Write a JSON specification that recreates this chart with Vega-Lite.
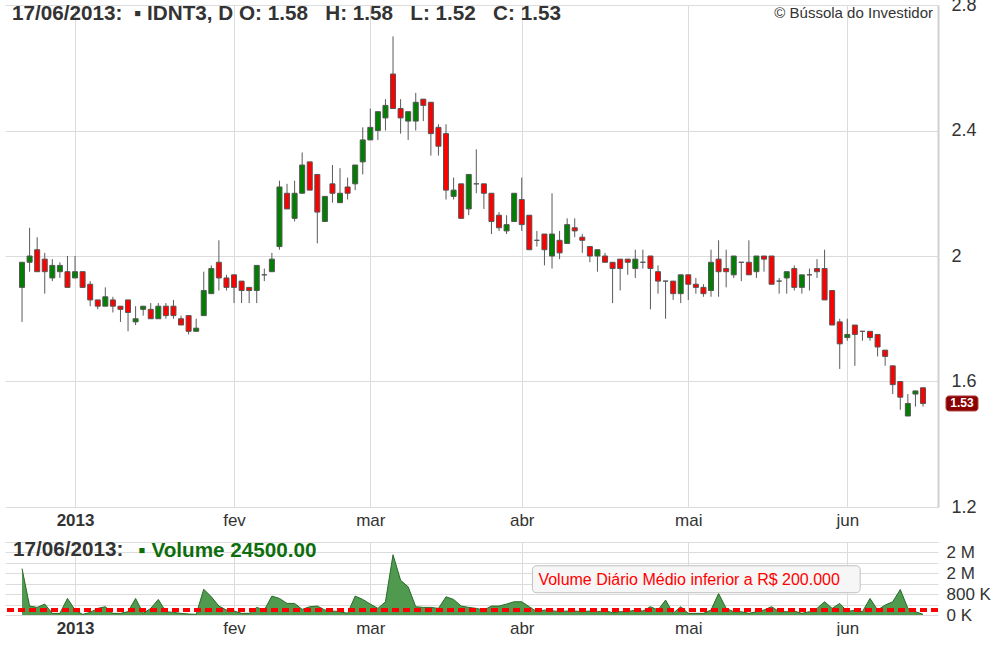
{
  "$schema": "https://vega.github.io/schema/vega-lite/v6.json",
  "background": "white",
  "padding": {"left": 3, "top": -4, "right": 0, "bottom": 0},
  "bounds": "flush",
  "spacing": 35,
  "config": {"font": "Liberation Sans", "view": {"stroke": null}},
  "title": {"text": "© Bússola do Investidor", "anchor": "end", "frame": "group", "fontSize": 15, "fontWeight": "normal", "color": "#333333", "offset": -25, "baseline": "top", "dx": -5},
  "datasets": {
    "d": [
      {"i":0,"o":1.90,"h":1.98,"l":1.79,"c":1.98,"v":1780000},
      {"i":1,"o":1.98,"h":2.09,"l":1.95,"c":2.00,"v":343000},
      {"i":2,"o":2.02,"h":2.06,"l":1.95,"c":1.95,"v":292000},
      {"i":3,"o":1.99,"h":2.01,"l":1.88,"c":1.95,"v":419000},
      {"i":4,"o":1.93,"h":1.99,"l":1.92,"c":1.97,"v":63000},
      {"i":5,"o":1.95,"h":1.98,"l":1.93,"c":1.97,"v":63000},
      {"i":6,"o":1.95,"h":2.00,"l":1.90,"c":1.90,"v":635000},
      {"i":7,"o":1.93,"h":2.00,"l":1.93,"c":1.95,"v":190000},
      {"i":8,"o":1.95,"h":1.95,"l":1.90,"c":1.90,"v":25000},
      {"i":9,"o":1.91,"h":1.92,"l":1.84,"c":1.86,"v":100000},
      {"i":10,"o":1.86,"h":1.86,"l":1.83,"c":1.84,"v":254000},
      {"i":11,"o":1.84,"h":1.90,"l":1.84,"c":1.87,"v":317000},
      {"i":12,"o":1.86,"h":1.87,"l":1.82,"c":1.84,"v":63000},
      {"i":13,"o":1.84,"h":1.84,"l":1.79,"c":1.83,"v":63000},
      {"i":14,"o":1.86,"h":1.86,"l":1.76,"c":1.82,"v":127000},
      {"i":15,"o":1.79,"h":1.84,"l":1.78,"c":1.80,"v":635000},
      {"i":16,"o":1.83,"h":1.84,"l":1.81,"c":1.84,"v":63000},
      {"i":17,"o":1.83,"h":1.85,"l":1.80,"c":1.80,"v":254000},
      {"i":18,"o":1.80,"h":1.85,"l":1.80,"c":1.84,"v":597000},
      {"i":19,"o":1.84,"h":1.85,"l":1.80,"c":1.81,"v":127000},
      {"i":20,"o":1.84,"h":1.86,"l":1.80,"c":1.81,"v":100000},
      {"i":21,"o":1.80,"h":1.81,"l":1.78,"c":1.78,"v":63000},
      {"i":22,"o":1.81,"h":1.81,"l":1.75,"c":1.76,"v":38000},
      {"i":23,"o":1.76,"h":1.80,"l":1.76,"c":1.77,"v":25000},
      {"i":24,"o":1.81,"h":1.95,"l":1.81,"c":1.89,"v":990000},
      {"i":25,"o":1.88,"h":1.97,"l":1.88,"c":1.96,"v":698000},
      {"i":26,"o":1.98,"h":2.05,"l":1.89,"c":1.93,"v":343000},
      {"i":27,"o":1.93,"h":1.94,"l":1.89,"c":1.90,"v":190000},
      {"i":28,"o":1.94,"h":1.94,"l":1.85,"c":1.90,"v":152000},
      {"i":29,"o":1.92,"h":1.92,"l":1.85,"c":1.89,"v":63000},
      {"i":30,"o":1.90,"h":1.90,"l":1.85,"c":1.89,"v":63000},
      {"i":31,"o":1.89,"h":1.97,"l":1.85,"c":1.97,"v":292000},
      {"i":32,"o":1.94,"h":1.96,"l":1.92,"c":1.94,"v":190000},
      {"i":33,"o":1.95,"h":2.01,"l":1.95,"c":1.99,"v":724000},
      {"i":34,"o":2.03,"h":2.24,"l":2.02,"c":2.22,"v":635000},
      {"i":35,"o":2.20,"h":2.23,"l":2.15,"c":2.15,"v":444000},
      {"i":36,"o":2.12,"h":2.24,"l":2.11,"c":2.20,"v":444000},
      {"i":37,"o":2.20,"h":2.33,"l":2.20,"c":2.29,"v":216000},
      {"i":38,"o":2.30,"h":2.30,"l":2.21,"c":2.21,"v":317000},
      {"i":39,"o":2.26,"h":2.26,"l":2.04,"c":2.14,"v":343000},
      {"i":40,"o":2.11,"h":2.19,"l":2.11,"c":2.19,"v":190000},
      {"i":41,"o":2.23,"h":2.29,"l":2.17,"c":2.20,"v":152000},
      {"i":42,"o":2.17,"h":2.28,"l":2.17,"c":2.20,"v":127000},
      {"i":43,"o":2.22,"h":2.25,"l":2.18,"c":2.20,"v":63000},
      {"i":44,"o":2.23,"h":2.29,"l":2.21,"c":2.29,"v":724000},
      {"i":45,"o":2.30,"h":2.41,"l":2.26,"c":2.37,"v":597000},
      {"i":46,"o":2.37,"h":2.47,"l":2.37,"c":2.41,"v":419000},
      {"i":47,"o":2.40,"h":2.46,"l":2.37,"c":2.46,"v":254000},
      {"i":48,"o":2.44,"h":2.50,"l":2.40,"c":2.48,"v":508000},
      {"i":49,"o":2.58,"h":2.70,"l":2.47,"c":2.47,"v":2310000},
      {"i":50,"o":2.47,"h":2.50,"l":2.39,"c":2.44,"v":1330000},
      {"i":51,"o":2.43,"h":2.46,"l":2.37,"c":2.46,"v":1080000},
      {"i":52,"o":2.43,"h":2.52,"l":2.40,"c":2.49,"v":317000},
      {"i":53,"o":2.50,"h":2.50,"l":2.43,"c":2.48,"v":292000},
      {"i":54,"o":2.49,"h":2.49,"l":2.32,"c":2.39,"v":292000},
      {"i":55,"o":2.41,"h":2.42,"l":2.32,"c":2.35,"v":254000},
      {"i":56,"o":2.39,"h":2.42,"l":2.18,"c":2.21,"v":698000},
      {"i":57,"o":2.19,"h":2.25,"l":2.18,"c":2.21,"v":597000},
      {"i":58,"o":2.23,"h":2.23,"l":2.12,"c":2.12,"v":343000},
      {"i":59,"o":2.15,"h":2.26,"l":2.13,"c":2.26,"v":292000},
      {"i":60,"o":2.23,"h":2.34,"l":2.20,"c":2.23,"v":254000},
      {"i":61,"o":2.23,"h":2.23,"l":2.15,"c":2.20,"v":190000},
      {"i":62,"o":2.20,"h":2.20,"l":2.07,"c":2.11,"v":343000},
      {"i":63,"o":2.13,"h":2.14,"l":2.08,"c":2.09,"v":343000},
      {"i":64,"o":2.08,"h":2.13,"l":2.07,"c":2.10,"v":419000},
      {"i":65,"o":2.11,"h":2.20,"l":2.11,"c":2.20,"v":508000},
      {"i":66,"o":2.18,"h":2.25,"l":2.08,"c":2.10,"v":508000},
      {"i":67,"o":2.13,"h":2.13,"l":2.02,"c":2.02,"v":317000},
      {"i":68,"o":2.05,"h":2.08,"l":2.03,"c":2.05,"v":127000},
      {"i":69,"o":2.07,"h":2.07,"l":1.97,"c":2.02,"v":190000},
      {"i":70,"o":2.00,"h":2.20,"l":1.96,"c":2.07,"v":165000},
      {"i":71,"o":2.05,"h":2.08,"l":1.99,"c":2.01,"v":127000},
      {"i":72,"o":2.04,"h":2.12,"l":2.04,"c":2.10,"v":152000},
      {"i":73,"o":2.09,"h":2.12,"l":2.06,"c":2.08,"v":152000},
      {"i":74,"o":2.06,"h":2.07,"l":2.01,"c":2.05,"v":127000},
      {"i":75,"o":2.03,"h":2.03,"l":1.98,"c":2.00,"v":152000},
      {"i":76,"o":2.00,"h":2.02,"l":1.95,"c":2.02,"v":127000},
      {"i":77,"o":2.00,"h":2.01,"l":1.98,"c":1.98,"v":165000},
      {"i":78,"o":1.98,"h":1.98,"l":1.85,"c":1.96,"v":89000},
      {"i":79,"o":1.99,"h":1.99,"l":1.89,"c":1.96,"v":127000},
      {"i":80,"o":1.99,"h":1.99,"l":1.94,"c":1.98,"v":127000},
      {"i":81,"o":1.96,"h":2.02,"l":1.93,"c":1.99,"v":190000},
      {"i":82,"o":1.98,"h":2.02,"l":1.96,"c":1.98,"v":152000},
      {"i":83,"o":2.00,"h":2.00,"l":1.83,"c":1.96,"v":317000},
      {"i":84,"o":1.95,"h":1.97,"l":1.88,"c":1.92,"v":190000},
      {"i":85,"o":1.92,"h":1.92,"l":1.80,"c":1.92,"v":571000},
      {"i":86,"o":1.92,"h":1.92,"l":1.86,"c":1.88,"v":63000},
      {"i":87,"o":1.88,"h":1.94,"l":1.85,"c":1.94,"v":317000},
      {"i":88,"o":1.94,"h":1.94,"l":1.86,"c":1.91,"v":63000},
      {"i":89,"o":1.91,"h":1.93,"l":1.88,"c":1.90,"v":63000},
      {"i":90,"o":1.90,"h":1.91,"l":1.87,"c":1.88,"v":63000},
      {"i":91,"o":1.89,"h":2.02,"l":1.87,"c":1.98,"v":190000},
      {"i":92,"o":1.99,"h":2.05,"l":1.87,"c":1.95,"v":825000},
      {"i":93,"o":1.96,"h":2.02,"l":1.90,"c":1.95,"v":254000},
      {"i":94,"o":1.94,"h":2.00,"l":1.93,"c":2.00,"v":127000},
      {"i":95,"o":1.98,"h":1.98,"l":1.92,"c":1.98,"v":127000},
      {"i":96,"o":1.98,"h":2.05,"l":1.94,"c":1.94,"v":63000},
      {"i":97,"o":1.95,"h":2.00,"l":1.93,"c":2.00,"v":127000},
      {"i":98,"o":2.00,"h":2.00,"l":1.95,"c":1.99,"v":190000},
      {"i":99,"o":2.00,"h":2.00,"l":1.91,"c":1.91,"v":317000},
      {"i":100,"o":1.92,"h":1.93,"l":1.88,"c":1.92,"v":127000},
      {"i":101,"o":1.93,"h":1.95,"l":1.88,"c":1.95,"v":127000},
      {"i":102,"o":1.96,"h":1.97,"l":1.89,"c":1.90,"v":152000},
      {"i":103,"o":1.90,"h":1.94,"l":1.88,"c":1.94,"v":63000},
      {"i":104,"o":1.94,"h":1.96,"l":1.89,"c":1.94,"v":127000},
      {"i":105,"o":1.96,"h":1.99,"l":1.93,"c":1.95,"v":254000},
      {"i":106,"o":1.96,"h":2.02,"l":1.86,"c":1.86,"v":508000},
      {"i":107,"o":1.89,"h":1.89,"l":1.78,"c":1.78,"v":254000},
      {"i":108,"o":1.79,"h":1.80,"l":1.64,"c":1.72,"v":444000},
      {"i":109,"o":1.74,"h":1.80,"l":1.73,"c":1.75,"v":127000},
      {"i":110,"o":1.78,"h":1.78,"l":1.65,"c":1.75,"v":190000},
      {"i":111,"o":1.76,"h":1.76,"l":1.73,"c":1.76,"v":127000},
      {"i":112,"o":1.76,"h":1.76,"l":1.73,"c":1.74,"v":635000},
      {"i":113,"o":1.75,"h":1.75,"l":1.68,"c":1.71,"v":190000},
      {"i":114,"o":1.70,"h":1.70,"l":1.65,"c":1.68,"v":381000},
      {"i":115,"o":1.65,"h":1.65,"l":1.56,"c":1.59,"v":508000},
      {"i":116,"o":1.60,"h":1.60,"l":1.51,"c":1.55,"v":978000},
      {"i":117,"o":1.49,"h":1.56,"l":1.49,"c":1.53,"v":254000},
      {"i":118,"o":1.56,"h":1.57,"l":1.52,"c":1.57,"v":127000},
      {"i":119,"o":1.58,"h":1.58,"l":1.52,"c":1.53,"v":24500}
    ]
  },
  "vconcat": [
    {
      "width": 933,
      "height": 502,
      "data": {"name": "d"},
      "title": {"text": "17/06/2013:\u00a0\u00a0\u25aa IDNT3, D O: 1.58\u00a0\u00a0 H: 1.58\u00a0\u00a0 L: 1.52\u00a0\u00a0 C: 1.53", "anchor": "start", "frame": "group", "fontSize": 20.7, "fontWeight": "bold", "color": "#333333", "offset": -29, "baseline": "top", "dx": 7},
      "encoding": {
        "x": {
          "field": "i", "type": "quantitative",
          "scale": {"domain": [-2.25, 120.98], "nice": false, "zero": false, "padding": 0},
          "axis": {"title": null, "values": [7, 28, 46, 66, 88, 109],
            "labelExpr": "datum.value == 7 ? '2013' : datum.value == 28 ? 'fev' : datum.value == 46 ? 'mar' : datum.value == 66 ? 'abr' : datum.value == 88 ? 'mai' : 'jun'",
            "labelFontWeight": {"expr": "datum.value == 7 ? 'bold' : 'normal'"},
            "grid": true, "gridColor": "#dcdcdc", "ticks": false, "domain": false,
            "labelFontSize": 17, "labelColor": "#333333", "labelPadding": 5, "labelFlush": false, "labelOverlap": false}
        }
      },
      "layer": [
        {
          "mark": {"type": "rule", "color": "#5a5a5a", "strokeWidth": 1},
          "encoding": {
            "y": {"field": "l", "type": "quantitative",
              "scale": {"domain": [1.2, 2.8], "nice": false, "zero": false, "padding": 0},
              "axis": {"title": null, "orient": "right", "values": [1.2, 1.6, 2, 2.4, 2.8], "format": "~g",
                "grid": true, "gridColor": "#dcdcdc", "ticks": false, "domain": true, "domainColor": "#d0d0d0", "domainWidth": 2,
                "labelFontSize": 18, "labelColor": "#333333", "labelPadding": 13, "labelFlush": false, "labelOverlap": false}},
            "y2": {"field": "h"}
          }
        },
        {
          "mark": {"type": "bar", "size": 5, "stroke": "#555555", "strokeWidth": 1},
          "encoding": {
            "y": {"field": "o", "type": "quantitative"},
            "y2": {"field": "c"},
            "fill": {"condition": {"test": "datum.o > datum.c", "value": "#ff0000"}, "value": "#008000"}
          }
        },
        {
          "transform": [{"filter": "datum.i == 119"}],
          "mark": {"type": "rect", "width": 32, "height": 15, "cornerRadius": 3, "fill": "#8b0000", "stroke": "#b04040", "strokeWidth": 1, "xOffset": 39},
          "encoding": {"y": {"field": "c", "type": "quantitative"}}
        },
        {
          "transform": [{"filter": "datum.i == 119"}],
          "mark": {"type": "text", "color": "white", "fontWeight": "bold", "fontSize": 12, "xOffset": 39, "align": "center", "baseline": "middle"},
          "encoding": {"y": {"field": "c", "type": "quantitative"}, "text": {"field": "c", "type": "quantitative", "format": ".2f"}}
        }
      ]
    },
    {
      "width": 933,
      "height": 73,
      "data": {"name": "d"},
      "title": {"text": "17/06/2013:", "anchor": "start", "frame": "group", "fontSize": 20.7, "fontWeight": "bold", "color": "#333333", "offset": -28, "baseline": "top", "dx": 8},
      "encoding": {
        "x": {
          "field": "i", "type": "quantitative",
          "scale": {"domain": [-2.25, 120.98], "nice": false, "zero": false, "padding": 0},
          "axis": {"title": null, "values": [7, 28, 46, 66, 88, 109],
            "labelExpr": "datum.value == 7 ? '2013' : datum.value == 28 ? 'fev' : datum.value == 46 ? 'mar' : datum.value == 66 ? 'abr' : datum.value == 88 ? 'mai' : 'jun'",
            "labelFontWeight": {"expr": "datum.value == 7 ? 'bold' : 'normal'"},
            "grid": true, "gridColor": "#dcdcdc", "ticks": false, "domain": false,
            "labelFontSize": 17, "labelColor": "#333333", "labelPadding": 5, "labelFlush": false, "labelOverlap": false}
        },
        "y": {"field": "v", "type": "quantitative",
          "scale": {"domain": [0, 2800000], "nice": false, "zero": true},
          "axis": {"title": null, "orient": "right", "values": [0, 400000, 800000, 1200000, 1600000, 2000000, 2400000, 2800000],
            "labelExpr": "(datum.value == 0) ? '0 K' : (datum.value == 800000) ? '800 K' : (datum.value == 1600000 || datum.value == 2400000) ? '2 M' : ''",
            "grid": true, "gridColor": "#dcdcdc", "ticks": false, "domain": false,
            "labelFontSize": 17, "labelColor": "#333333", "labelPadding": 8, "labelFlush": false, "labelOverlap": false}}
      },
      "layer": [
        {
          "mark": {"type": "area", "color": "#4f9a4f", "opacity": 1, "line": {"color": "#2a6a2a", "strokeWidth": 1}}
        },
        {
          "mark": {"type": "rule", "color": "#ff0000", "strokeWidth": 3, "strokeDash": [7, 4]},
          "encoding": {"y": {"datum": 200000}, "x": null}
        },
        {
          "transform": [{"filter": "datum.i == 0"}],
          "mark": {"type": "rect", "fill": "#f6f6f6", "stroke": "#c0c0c0", "strokeWidth": 1, "cornerRadius": 4},
          "encoding": {"x": {"datum": 67.41}, "x2": {"datum": 110.7}, "y": {"datum": 1890000}, "y2": {"datum": 855000}}
        },
        {
          "transform": [{"filter": "datum.i == 0"}],
          "mark": {"type": "text", "text": "Volume Diário Médio inferior a R$ 200.000", "color": "#ff0000", "fontSize": 16, "align": "left", "baseline": "middle"},
          "encoding": {"x": {"datum": 68.2}, "y": {"datum": 1342000}}
        },
        {
          "transform": [{"filter": "datum.i == 0"}],
          "mark": {"type": "text", "text": "\u25aa Volume 24500.00", "color": "#0e6e0e", "fontSize": 20.7, "fontWeight": "bold", "align": "left", "baseline": "middle"},
          "encoding": {"x": {"datum": 15.36}, "y": {"datum": 2454000}}
        }
      ]
    }
  ]
}
